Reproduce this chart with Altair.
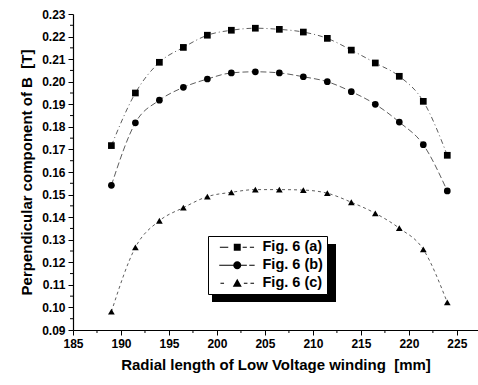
import altair as alt
import pandas as pd

# ---- data ----
x_vals = [189, 191.5, 194, 196.5, 199, 201.5, 204, 206.5, 209, 211.5, 214, 216.5, 219, 221.5, 224]
series_a = [0.1717, 0.1950, 0.2086, 0.2152, 0.2206, 0.2228, 0.2237, 0.2232, 0.2220, 0.2192,
            0.2140, 0.2083, 0.2024, 0.1913, 0.1674]
series_b = [0.1541, 0.1818, 0.1918, 0.1975, 0.2012, 0.2039, 0.2044, 0.2039, 0.2022, 0.2000,
            0.1956, 0.1900, 0.1821, 0.1721, 0.1516]
series_c = [0.0981, 0.1266, 0.1384, 0.1442, 0.1491, 0.1510, 0.1522, 0.1522, 0.1520, 0.1506,
            0.1466, 0.1417, 0.1351, 0.1257, 0.1022]
series_names = ["Fig. 6 (a)", "Fig. 6 (b)", "Fig. 6 (c)"]
x_ticks = [185, 190, 195, 200, 205, 210, 215, 220, 225]
x_minor = [187.5, 192.5, 197.5, 202.5, 207.5, 212.5, 217.5, 222.5]
y_ticks = [0.09, 0.10, 0.11, 0.12, 0.13, 0.14, 0.15, 0.16, 0.17, 0.18, 0.19, 0.20, 0.21, 0.22, 0.23]
y_minor = [0.095, 0.105, 0.115, 0.125, 0.135, 0.145, 0.155, 0.165, 0.175, 0.185, 0.195,
           0.205, 0.215, 0.225]

rows = []
for name, vals in zip(series_names, [series_a, series_b, series_c]):
    for xv, yv in zip(x_vals, vals):
        rows.append({"x": xv, "y": yv, "series": name})
df = pd.DataFrame(rows)
xminor_df = pd.DataFrame({"x": x_minor})
yminor_df = pd.DataFrame({"y": y_minor})

FONT = "Liberation Sans"
NB = "\u00a0"
X_TITLE = "Radial length of Low Voltage winding" + NB + NB + "[mm]"
Y_TITLE = "Perpendicular component of B" + NB + NB + "[T]"

x_scale = alt.Scale(domain=[185, 227.2], nice=False, zero=False)
y_scale = alt.Scale(domain=[0.09, 0.23], nice=False, zero=False)

x_enc = alt.X(
    "x:Q",
    title=X_TITLE,
    scale=x_scale,
    axis=alt.Axis(
        values=x_ticks,
        tickCount=40,
        format="d",
        tickSize=5,
        grid=False,
        labelPadding=3,
        titlePadding=8,
        labelOverlap=False,
    ),
)
y_enc = alt.Y(
    "y:Q",
    title=Y_TITLE,
    scale=y_scale,
    axis=alt.Axis(
        values=y_ticks,
        tickCount=40,
        format=".2f",
        tickSize=5,
        grid=False,
        labelPadding=3,
        titlePadding=7,
        labelOverlap=False,
    ),
)

lines = alt.Chart(df).mark_line(interpolate="monotone", color="#333333", strokeWidth=0.8).encode(
    x=x_enc,
    y=y_enc,
    strokeDash=alt.StrokeDash(
        "series:N",
        scale=alt.Scale(domain=series_names, range=[[5, 3, 1, 3], [6, 3], [3, 3]]),
        legend=None,
    ),
)

points = alt.Chart(df).mark_point(filled=True, color="black", opacity=1).encode(
    x=alt.X("x:Q", title=X_TITLE),
    y=alt.Y("y:Q", title=Y_TITLE),
    shape=alt.Shape(
        "series:N",
        scale=alt.Scale(domain=series_names, range=["square", "circle", "triangle-up"]),
        legend=None,
    ),
    size=alt.Size("series:N", scale=alt.Scale(domain=series_names, range=[45, 45, 60]), legend=None),
)

# minor ticks (outward, shorter)
x_minor_ticks = alt.Chart(xminor_df).mark_rule(color="black", strokeWidth=1).encode(
    x=alt.X("x:Q", title=X_TITLE), y=alt.value(316), y2=alt.value(319)
)
y_minor_ticks = alt.Chart(yminor_df).mark_rule(color="black", strokeWidth=1).encode(
    y=alt.Y("y:Q", title=Y_TITLE), x=alt.value(-3), x2=alt.value(0)
)

# legend symbols: short line segments (thin filled bars) with a marker in the middle (unit = 6 px)
def seg(a, b):
    return f"M{a},-0.09H{b}V0.09H{a}Z "

sym_a = seg(-2.9, -1.5) + "M-0.58,-0.58H0.58V0.58H-0.58Z " + seg(0.9, 1.6) + seg(2.1, 2.8)
sym_b = (seg(-3.0, -0.6) + "M0.67,0A0.67,0.67 0 1,1 -0.67,0A0.67,0.67 0 1,1 0.67,0Z "
         + seg(0.6, 1.6) + seg(2.0, 2.9))
sym_c = seg(-2.8, -2.2) + "M0,-0.75L0.75,0.6H-0.75Z " + seg(1.1, 1.7) + seg(2.2, 2.8)

legend_layer = alt.Chart(df).mark_point(
    filled=True, fill="black", opacity=0
).encode(
    x=alt.X("x:Q", title=X_TITLE),
    y=alt.Y("y:Q", title=Y_TITLE),
    shape=alt.Shape(
        "series:N",
        scale=alt.Scale(domain=series_names, range=[sym_a, sym_b, sym_c]),
        legend=alt.Legend(
            title=None,
            orient="none",
            legendX=135,
            legendY=222,
            padding=4,
            fillColor="white",
            strokeColor="black",
            symbolSize=144,
            symbolOpacity=1,
            symbolFillColor="black",
            symbolStrokeWidth=0,
            symbolOffset=18,
            labelOffset=18,
            labelFont=FONT,
            labelFontSize=14.5,
            labelFontWeight="bold",
            labelColor="black",
            labelExpr="datum.label + '\u00a0\u00a0'",
            rowPadding=3,
        ),
    ),
)

shadow = alt.Chart(df).mark_rect(color="black").encode(
    x=alt.value(139), x2=alt.value(263), y=alt.value(230), y2=alt.value(288)
).transform_filter("datum.x == 189 && datum.series == 'Fig. 6 (a)'")

chart = alt.layer(lines, x_minor_ticks, y_minor_ticks, shadow, points, legend_layer).resolve_scale(
    shape="independent", size="independent"
).properties(
    width=405,
    height=316,
    autosize=alt.AutoSizeParams(type="none"),
    padding={"left": 73, "top": 14, "right": 0, "bottom": 55},
    background="white",
).configure_view(
    stroke=None
).configure_axis(
    domainColor="black",
    domainWidth=1.2,
    tickColor="black",
    tickWidth=1,
    labelFont=FONT,
    labelFontSize=12,
    labelFontWeight="bold",
    labelColor="black",
    titleFont=FONT,
    titleFontSize=15,
    titleFontWeight="bold",
    titleColor="black",
    labelFlush=False,
    labelOverlap=False,
)

chart.save("out.html", embed_options={"renderer": "svg", "actions": False})
